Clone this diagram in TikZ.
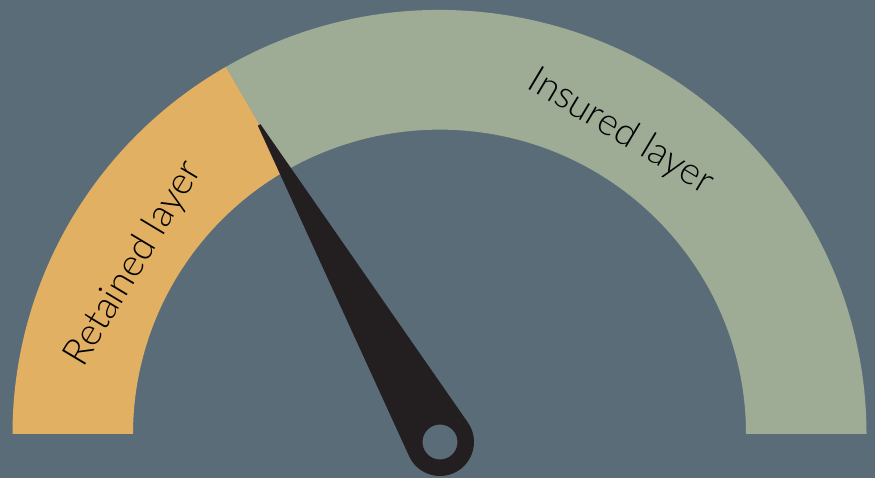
\documentclass[tikz,border=0pt]{standalone}
\usepackage{fontspec}
\usepackage{xcolor}
\newfontfamily\labelfont{Lato Light}
\definecolor{bgslate}{RGB}{91,108,121}
\definecolor{retainedorange}{RGB}{226,176,98}
\definecolor{insuredgreen}{RGB}{158,172,149}
\definecolor{needleblack}{RGB}{35,31,32}

\begin{document}
\begin{tikzpicture}[x=1pt,y=1pt,every node/.style={font=\labelfont\fontsize{38}{42}\selectfont,text=black}]
\fill[bgslate] (0,0) rectangle (875,478);
\useasboundingbox (0,0) rectangle (875,478);
\coordinate (hub) at (439.5,44);
\coordinate (pivot) at (440,36);
\begin{scope}[shift={(hub)},yscale=0.993]
% retained band
\fill[retainedorange] (180:427) arc[start angle=180,end angle=120,radius=427]
  -- (120:306.5) arc[start angle=120,end angle=180,radius=306.5] -- cycle;
% insured band
\fill[insuredgreen] (120:427) arc[start angle=120,end angle=0,radius=427]
  -- (0:306.5) arc[start angle=0,end angle=120,radius=306.5] -- cycle;
\end{scope}
\node[rotate=59] (retained) at (134,214) {Retained layer};
\node[rotate=-31] (insured) at (621,346) {Insured layer};
% needle
\begin{scope}[shift={(pivot)},rotate=119.7]
\fill[needleblack,even odd rule] (365,1.5) -- (84.66:34) arc[start angle=84.66,end angle=275.34,radius=34]
  -- (365,-1.5) -- cycle (0,0) circle[radius=17.5];
\end{scope}
\end{tikzpicture}
\end{document}
